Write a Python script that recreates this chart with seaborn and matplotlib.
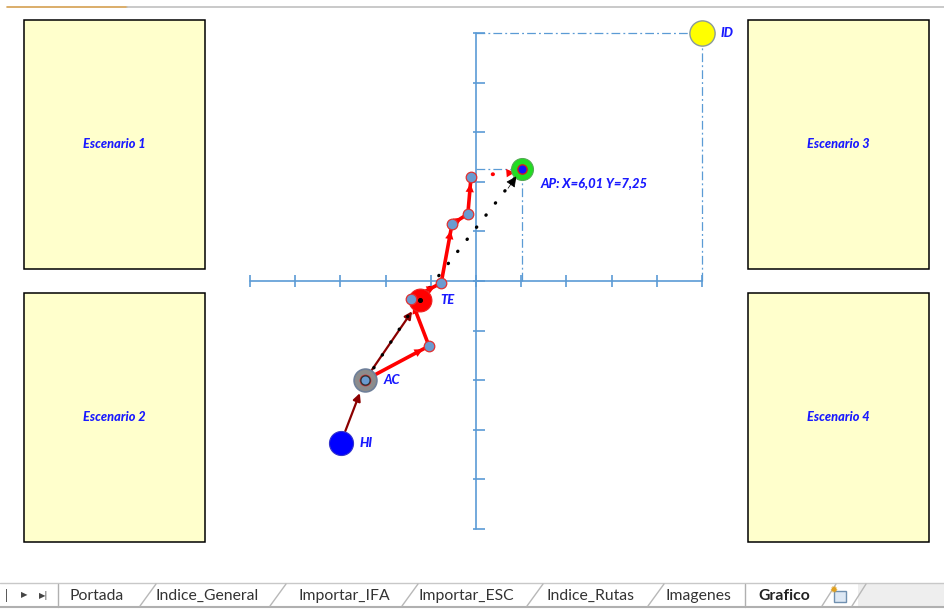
import matplotlib
matplotlib.use("Agg")
import matplotlib.pyplot as plt
from matplotlib.patches import Rectangle
from matplotlib.lines import Line2D
import seaborn as sns
import pandas as pd

sns.set_theme(style="white")
plt.rcParams['font.family'] = ['Lato', 'DejaVu Sans']

# ---------------- data ----------------
key_labels = ["HI", "AC", "TE", "AP", "ID"]
key_x = [2.01, 2.54, 3.76, 6.01, 10.0]
key_y = [1.74, 3.00, 4.62, 7.25, 10.0]

route_x = [2.54, 3.96, 3.56, 4.23, 4.47, 4.82, 4.89]
route_y = [3.00, 3.69, 4.64, 4.96, 6.15, 6.35, 7.10]

axis_ticks = [0, 1, 2, 3, 4, 5, 6, 7, 8, 9, 10]
axis_center = 5

ap_label = "AP: X=6,01 Y=7,25"
scenarios = ["Escenario 1", "Escenario 2", "Escenario 3", "Escenario 4"]
sheet_tabs = ["Portada", "Indice_General", "Importar_IFA", "Importar_ESC",
              "Indice_Rutas", "Imagenes", "Grafico"]

# ---------------- figure ----------------
W, H = 944, 611
fig = plt.figure(figsize=(W / 100, H / 100), dpi=100)
fig.patch.set_facecolor("white")

def fx(x):
    return x / W

def fy(y):
    return 1 - y / H

# main axes: data 0..10 -> pixels 250..702 (x), 529..33 (y)
ax = fig.add_axes([fx(250), fy(529), (702 - 250) / W, (529 - 33) / H])
ax.set_xlim(0, 10)
ax.set_ylim(0, 10)
ax.axis("off")

blue_axis = "#5B9BD5"
# cross axes
ax.plot([axis_ticks[0], axis_ticks[-1]], [axis_center, axis_center], color=blue_axis, lw=1.2,
        zorder=1, clip_on=False)
ax.plot([axis_center, axis_center], [axis_ticks[0], axis_ticks[-1]], color=blue_axis, lw=1.2,
        zorder=1, clip_on=False)
ax.plot(axis_ticks, [axis_center] * len(axis_ticks), ls="none", marker="|", ms=9, mew=1.2,
        color=blue_axis, zorder=1, clip_on=False)
ax.plot([axis_center + 0.06] * len(axis_ticks), axis_ticks, ls="none", marker="_", ms=9, mew=1.2,
        color=blue_axis, zorder=1, clip_on=False)

dashdot = (0, (7, 2.5, 1.5, 2.5))
# guide lines for AP and ID
for i in (3, 4):
    ax.plot([axis_center, key_x[i]], [key_y[i], key_y[i]], color=blue_axis, lw=0.9, ls=dashdot,
            zorder=1, clip_on=False)
    ax.plot([key_x[i], key_x[i]], [axis_center, key_y[i]], color=blue_axis, lw=0.9, ls=dashdot,
            zorder=1, clip_on=False)

# dark red arrows HI->AC->TE
for a, b in ((0, 1), (1, 2)):
    ax.annotate("", xy=(key_x[b], key_y[b]), xytext=(key_x[a], key_y[a]),
                arrowprops=dict(arrowstyle="-|>", color="#8B0000", lw=1.6, mutation_scale=11,
                                shrinkA=9, shrinkB=10), zorder=2)

# black dotted direct path AC -> TE -> AP
ax.plot([key_x[1] + 0.2, key_x[2] - 0.1], [key_y[1] + 0.25, key_y[2] - 0.1], color="black", lw=2.4,
        ls=(0, (0.1, 4.5)), dash_capstyle="round", zorder=3)
ax.plot([key_x[2], key_x[3]], [key_y[2], key_y[3]], color="black", lw=2.4,
        ls=(0, (0.1, 4.5)), dash_capstyle="round", zorder=3)
ax.annotate("", xy=(key_x[3] - 0.05, key_y[3] - 0.05), xytext=(key_x[3] - 0.3, key_y[3] - 0.38),
            arrowprops=dict(arrowstyle="-|>", color="black", lw=0.5, mutation_scale=16,
                            shrinkA=0, shrinkB=4), zorder=6)

# red route
route = pd.DataFrame({"x": route_x, "y": route_y, "step": range(len(route_x))})
sns.lineplot(data=route, x="x", y="y", sort=False, color="red", lw=2.6, ax=ax, zorder=3)
for i in range(len(route_x) - 1):
    ax.annotate("", xy=(route_x[i + 1], route_y[i + 1]), xytext=(route_x[i], route_y[i]),
                arrowprops=dict(arrowstyle="-|>", color="red", lw=0, mutation_scale=15,
                                shrinkA=0, shrinkB=5), zorder=4)
# red dotted final leg
ax.plot([route_x[-1], key_x[3] - 0.2], [route_y[-1], key_y[3] - 0.05], color="red", lw=2.8,
        ls=(0, (0.1, 5.5)), dash_capstyle="round", zorder=3)
ax.annotate("", xy=(key_x[3], key_y[3] - 0.05), xytext=(key_x[3] - 0.4, key_y[3] - 0.08),
            arrowprops=dict(arrowstyle="-|>", color="red", lw=0, mutation_scale=15,
                            shrinkA=0, shrinkB=5), zorder=4)

# key points
kp = pd.DataFrame({"x": key_x, "y": key_y, "label": key_labels})
sns.scatterplot(data=kp.iloc[[0]], x="x", y="y", s=300, color="#0000FF", edgecolor="#3333cc",
                linewidth=0.8, ax=ax, zorder=5, clip_on=False)
sns.scatterplot(data=kp.iloc[[1]], x="x", y="y", s=270, color="#8c8c8c", edgecolor="#6e7f99",
                linewidth=1.2, ax=ax, zorder=5, clip_on=False)
sns.scatterplot(data=kp.iloc[[2]], x="x", y="y", s=270, color="#FF0000", edgecolor="#ee2222",
                linewidth=0.8, ax=ax, zorder=5, clip_on=False)
sns.scatterplot(data=kp.iloc[[3]], x="x", y="y", s=250, color="#22DD22", edgecolor="#55aa55",
                linewidth=0.8, ax=ax, zorder=5, clip_on=False)
sns.scatterplot(data=kp.iloc[[4]], x="x", y="y", s=330, color="#FFFF00", edgecolor="#8a9a9a",
                linewidth=1.0, ax=ax, zorder=5, clip_on=False)

# route waypoints
sns.scatterplot(data=route, x="x", y="y", s=58, color="#6A9BD0", edgecolor="#E03030",
                linewidth=0.9, ax=ax, zorder=7, clip_on=False)
# centre dots
ax.scatter([key_x[3]], [key_y[3]], s=45, color="#1010FF", edgecolor="#cc2222", lw=1.0, zorder=8)
ax.scatter([key_x[1]], [key_y[1]], s=45, color="#6A9BD0", edgecolor="#333333", lw=1.0, zorder=8)
ax.scatter([key_x[2]], [key_y[2]], s=7, color="black", zorder=8)

# labels
lab_kw = dict(color="#1a1aff", fontsize=9.4, fontweight="black", fontstyle="italic",
              va="center", ha="left", zorder=9)
ax.annotate(key_labels[0], (key_x[0], key_y[0]), xytext=(19, 0), textcoords="offset pixels", **lab_kw)
ax.annotate(key_labels[1], (key_x[1], key_y[1]), xytext=(19, 0), textcoords="offset pixels", **lab_kw)
ax.annotate(key_labels[2], (key_x[2], key_y[2]), xytext=(20, 0), textcoords="offset pixels", **lab_kw)
ax.annotate(ap_label, (key_x[3], key_y[3]), xytext=(19, -14), textcoords="offset pixels", **lab_kw)
ax.annotate(key_labels[4], (key_x[4], key_y[4]), xytext=(19, 0), textcoords="offset pixels", **lab_kw)

# scenario boxes
boxes = [(24, 20), (24, 293), (748, 20), (748, 293)]
for (bx, by), name in zip(boxes, scenarios):
    bw, bh = 181, 249
    fig.add_artist(Rectangle((fx(bx), fy(by + bh)), bw / W, bh / H, transform=fig.transFigure,
                             facecolor="#FFFFCC", edgecolor="black", lw=1.1, zorder=2))
    fig.text(fx(bx + bw / 2), fy(by + bh / 2 - 0.5), name, color="#1a1aff", fontsize=9.2,
             fontweight="black", fontstyle="italic", ha="center", va="center", zorder=3)

# top line
fig.add_artist(Line2D([fx(7), fx(127)], [fy(7), fy(7)], color="#D4A050", lw=1.2, transform=fig.transFigure))
fig.add_artist(Line2D([fx(127), fx(944)], [fy(7), fy(7)], color="#C0C0C0", lw=1.2, transform=fig.transFigure))

# sheet tabs bar
fig.add_artist(Rectangle((fx(858), fy(607)), (944 - 858) / W, 24 / H, transform=fig.transFigure,
                         facecolor="#EEEEEE", edgecolor="none", zorder=0))
fig.add_artist(Line2D([fx(0), fx(944)], [fy(583), fy(583)], color="#C8C8C8", lw=1.0, transform=fig.transFigure))
fig.add_artist(Line2D([fx(0), fx(944)], [fy(607), fy(607)], color="#B0B0B0", lw=1.5, transform=fig.transFigure))
fig.text(fx(6), fy(595), "|", fontsize=9, color="#444444", ha="center", va="center")
fig.text(fx(24), fy(595), "\u25B6", fontsize=6, color="#444444", ha="center", va="center",
         family="DejaVu Sans")
fig.text(fx(44), fy(595), "\u25B6|", fontsize=6, color="#444444", ha="center", va="center",
         family="DejaVu Sans")
fig.add_artist(Line2D([fx(58), fx(58)], [fy(584), fy(607)], color="#B0B0B0", lw=1.0, transform=fig.transFigure))
tab_centers = [97, 207, 344, 466, 590, 698, 784]
tab_edges = [140, 270, 402, 527, 648, 745, 822]
for name, cx in zip(sheet_tabs, tab_centers):
    bold = name == sheet_tabs[-1]
    fig.text(fx(cx), fy(596), name, fontsize=11.3,
             fontweight="bold" if bold else "normal", color="#222222" if bold else "#333333",
             ha="center", va="center")
for ex in tab_edges[:-2]:
    fig.add_artist(Line2D([fx(ex), fx(ex + 16)], [fy(606), fy(584)], color="#B8B8B8", lw=1.0,
                          transform=fig.transFigure))
fig.add_artist(Line2D([fx(745), fx(745)], [fy(584), fy(607)], color="#B0B0B0", lw=1.0, transform=fig.transFigure))
fig.add_artist(Line2D([fx(822), fx(836)], [fy(606), fy(584)], color="#B8B8B8", lw=1.0, transform=fig.transFigure))
fig.add_artist(Line2D([fx(852), fx(866)], [fy(606), fy(584)], color="#B8B8B8", lw=1.0, transform=fig.transFigure))
# new-sheet icon
fig.add_artist(Rectangle((fx(834), fy(602)), 12 / W, 11 / H, transform=fig.transFigure,
                         facecolor="#DDE8F4", edgecolor="#7090B0", lw=1.0))
fig.text(fx(834), fy(590), "\u2739", fontsize=7, color="#E0A020", ha="center", va="center",
         family="DejaVu Sans")

fig.savefig("out.png", dpi=100, facecolor="white")
